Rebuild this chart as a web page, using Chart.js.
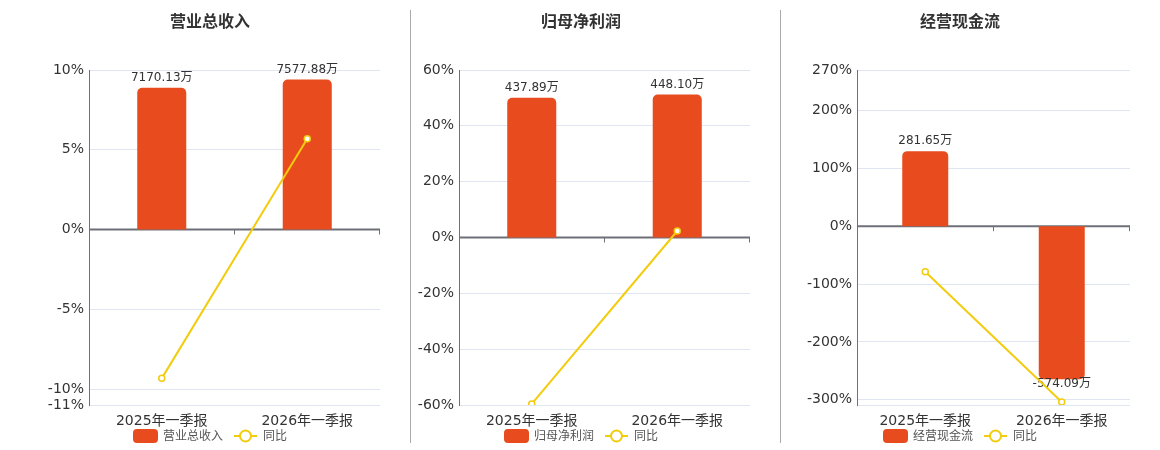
<!DOCTYPE html>
<html>
<head>
<meta charset="utf-8">
<script src="https://cdn.jsdelivr.net/npm/chart.js@4/dist/chart.umd.min.js"></script>
<style>
  html, body { margin: 0; padding: 0; background: #fff; }
  body { width: 1160px; height: 450px; position: relative; overflow: hidden; }
  .panel { position: absolute; top: 0; height: 450px; }
  .divider { position: absolute; top: 10px; height: 433px; width: 1px; background: #aaa; }
</style>
</head>
<body>
<div class="panel" id="p1" style="left:0;width:410px"><canvas id="c1"></canvas></div>
<div class="divider" style="left:410px"></div>
<div class="panel" id="p2" style="left:411px;width:369px"><canvas id="c2"></canvas></div>
<div class="divider" style="left:780px"></div>
<div class="panel" id="p3" style="left:781px;width:379px"><canvas id="c3"></canvas></div>
<script>
// ---- data ----
const categories = ['2025年一季报', '2026年一季报'];

const revenueValues = [7170.13, 7577.88];
const revenueYoY = [-9.33, 5.69];
const revenueTicks = [-11, -10, -5, 0, 5, 10];

const profitValues = [437.89, 448.10];
const profitYoY = [-59.6, 2.33];
const profitTicks = [-60, -40, -20, 0, 20, 40, 60];

const cashValues = [281.65, -574.09];
const cashYoY = [-78.6, -303.83];
const cashTicks = [-300, -200, -100, 0, 100, 200, 270];

// ---- styles ----
const FONT = '"DejaVu Sans", "Noto Sans CJK SC", sans-serif';
const BAR_COLOR = '#E84C1E';
const LINE_COLOR = '#F2CC0E';
const GRID_COLOR = '#E0E6F1';
const AXIS_COLOR = '#6E7079';
Chart.defaults.font.family = FONT;
Chart.defaults.animation = false;

function makeChart(cfg) {
  const bMin = cfg.bMax * cfg.pMin / cfg.pMax;
  const overlay = {
    id: 'overlay',
    beforeDatasetsDraw(chart) {
      const ctx = chart.ctx, a = chart.chartArea;
      const y0 = chart.scales.y.getPixelForValue(0);
      ctx.save();
      ctx.strokeStyle = AXIS_COLOR;
      ctx.lineWidth = 2;
      ctx.beginPath(); ctx.moveTo(a.left, y0); ctx.lineTo(a.right, y0); ctx.stroke();
      ctx.lineWidth = 1;
      const n = categories.length;
      for (let i = 1; i <= n; i++) {
        const x = Math.round(a.left + i * (a.right - a.left) / n) - 0.5;
        ctx.beginPath(); ctx.moveTo(x, y0); ctx.lineTo(x, y0 + 5); ctx.stroke();
      }
      ctx.restore();
    },
    afterDatasetDraw(chart, args) {
      if (args.meta.type !== 'bar') return;
      const ctx = chart.ctx;
      ctx.save();
      ctx.font = '12px ' + FONT;
      ctx.fillStyle = '#333';
      ctx.textAlign = 'center';
      args.meta.data.forEach((el, i) => {
        const v = cfg.bars[i];
        const txt = v.toFixed(2) + '万';
        if (v >= 0) { ctx.textBaseline = 'bottom'; ctx.fillText(txt, el.x, el.y - 4); }
        else { ctx.textBaseline = 'top'; ctx.fillText(txt, el.x, el.y - 1); }
      });
      ctx.restore();
    },
    afterDraw(chart) {
      const ctx = chart.ctx;
      ctx.save();
      // title
      ctx.font = 'bold 16px ' + FONT;
      ctx.fillStyle = '#333';
      ctx.textAlign = 'center';
      ctx.textBaseline = 'middle';
      ctx.fillText(cfg.title, cfg.cx, 23);
      // legend
      ctx.font = '12px ' + FONT;
      const t1 = ctx.measureText(cfg.title).width;
      const t2 = ctx.measureText('同比').width;
      const total = 25 + 5 + t1 + 11 + 23 + 6 + t2;
      let x = cfg.cx - total / 2;
      const ly = 436;
      ctx.fillStyle = BAR_COLOR;
      ctx.beginPath(); ctx.roundRect(x, ly - 7, 25, 14, 4); ctx.fill();
      x += 30;
      ctx.fillStyle = '#555';
      ctx.textAlign = 'left';
      ctx.fillText(cfg.title, x, ly + 1);
      x += t1 + 11;
      ctx.strokeStyle = LINE_COLOR;
      ctx.lineWidth = 2;
      ctx.beginPath(); ctx.moveTo(x, ly); ctx.lineTo(x + 23, ly); ctx.stroke();
      ctx.fillStyle = '#fff';
      ctx.beginPath(); ctx.arc(x + 11.5, ly, 5.5, 0, Math.PI * 2); ctx.fill(); ctx.stroke();
      x += 29;
      ctx.fillStyle = '#555';
      ctx.fillText('同比', x, ly + 1);
      ctx.restore();
    }
  };

  return new Chart(document.getElementById(cfg.id), {
    data: {
      labels: categories,
      datasets: [
        {
          type: 'line', label: '同比', data: cfg.yoy, yAxisID: 'y', order: 0,
          borderColor: LINE_COLOR, borderWidth: 2, pointRadius: 3,
          pointBorderWidth: 1.5, pointBackgroundColor: '#fff', pointBorderColor: LINE_COLOR,
          tension: 0
        },
        {
          type: 'bar', label: cfg.title, data: cfg.bars, yAxisID: 'y1', order: 1,
          backgroundColor: BAR_COLOR, borderRadius: 5, borderSkipped: 'start',
          barPercentage: 0.337, categoryPercentage: 1
        }
      ]
    },
    options: {
      responsive: true, maintainAspectRatio: false,
      layout: { padding: { top: 70, bottom: 15, left: cfg.padL, right: 30 } },
      plugins: { legend: { display: false }, title: { display: false }, tooltip: { enabled: false } },
      scales: {
        x: {
          grid: { display: false }, border: { display: false },
          ticks: { color: '#333', font: { size: 14 }, padding: 0 },
          afterFit(s) { s.height = 30; }
        },
        y: {
          position: 'left', min: cfg.pMin, max: cfg.pMax,
          grid: { color: GRID_COLOR, drawTicks: false },
          border: { display: true, color: AXIS_COLOR, width: 1 },
          ticks: {
            color: '#333', font: { size: 14 }, padding: 5, autoSkip: false,
            callback: (v) => cfg.ticks.includes(v) ? v + '%' : ''
          },
          afterBuildTicks(s) {
            const vals = cfg.ticks.slice();
            if (!vals.includes(cfg.pMin)) vals.unshift(cfg.pMin);
            s.ticks = vals.map(v => ({ value: v }));
          },
          afterFit(s) { s.width = cfg.axisW; }
        },
        y1: { display: false, min: bMin, max: cfg.bMax }
      }
    },
    plugins: [overlay]
  });
}

makeChart({ id: 'c1', title: '营业总收入', bars: revenueValues, yoy: revenueYoY, ticks: revenueTicks,
  pMin: -11, pMax: 10, bMax: 8064, padL: 29, axisW: 60, cx: 210 });
makeChart({ id: 'c2', title: '归母净利润', bars: profitValues, yoy: profitYoY, ticks: profitTicks,
  pMin: -60, pMax: 60, bMax: 525, padL: 4, axisW: 44, cx: 170 });
makeChart({ id: 'c3', title: '经营现金流', bars: cashValues, yoy: cashYoY, ticks: cashTicks,
  pMin: -309, pMax: 270, bMax: 586, padL: 20, axisW: 56, cx: 179 });
</script>
</body>
</html>
